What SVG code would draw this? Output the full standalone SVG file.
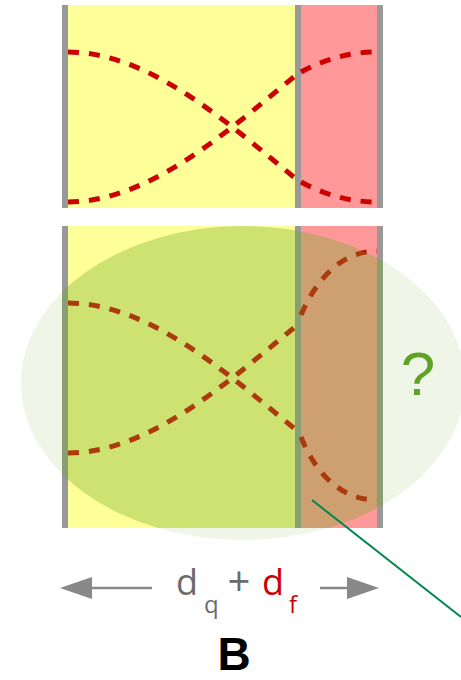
<svg xmlns="http://www.w3.org/2000/svg" width="461" height="680" viewBox="0 0 461 680">
<style>
.bar{stroke:#999999;stroke-width:6;fill:none}
.dash{stroke:#CC0000;stroke-width:5;fill:none;stroke-dasharray:11 10}
.arrow{stroke:#888888;stroke-width:2.5;fill:none}
.head{fill:#888888}
.t{font-family:"Open Sans","Noto Sans",sans-serif}
</style>
<defs>
<clipPath id="panelClip"><rect x="62" y="226" width="321" height="302"/></clipPath>
</defs>
<rect width="461" height="680" fill="#FFFFFF"/>
<g id="panel-top">
<rect x="65" y="5" width="233" height="203" fill="#FFFF99"/>
<rect x="298" y="5" width="82" height="203" fill="#FF9999"/>
<line class="bar" x1="65" y1="5" x2="65" y2="208"/>
<line class="bar" x1="298" y1="5" x2="298" y2="208"/>
<line class="bar" x1="380" y1="5" x2="380" y2="208"/>
<path class="dash" d="M68,52 C150,52 230,125 295,178"/>
<path class="dash" d="M68,202 C150,202 230,129 295,76"/>
<path class="dash" d="M301,182 C325,195 350,202 377,202"/>
<path class="dash" d="M301,72 C325,59 350,52 377,52"/>
</g>
<g id="panel-bottom">
<rect x="65" y="226" width="233" height="302" fill="#FFFF99"/>
<rect x="298" y="226" width="82" height="302" fill="#FF9999"/>
<line class="bar" x1="65" y1="226" x2="65" y2="528"/>
<line class="bar" x1="298" y1="226" x2="298" y2="528"/>
<line class="bar" x1="380" y1="226" x2="380" y2="528"/>
<path class="dash" d="M68,303 C150,303 230,376 295,429"/>
<path class="dash" d="M68,453 C150,453 230,380 295,327"/>
<path class="dash" d="M301,437 C315,472 340,500 377,500"/>
<path class="dash" d="M301,315 C315,282 340,251 377,251"/>
</g>
<g id="ellipse">
<ellipse cx="243" cy="383" rx="222" ry="157" fill="#6EAA28" fill-opacity="0.11"/>
<ellipse cx="243" cy="383" rx="222" ry="157" fill="#6EAA28" fill-opacity="0.26" clip-path="url(#panelClip)"/>
<text x="418" y="395" font-size="62" fill="#5EA328" text-anchor="middle" font-family="'Liberation Sans',Arial,sans-serif">?</text>
</g>
<g id="connectors">
<line x1="312" y1="500" x2="461" y2="617" stroke="#00884A" stroke-width="2"/>
<line class="arrow" x1="88" y1="588" x2="152" y2="588"/>
<polygon class="head" points="60,588 92,577 92,599"/>
<line class="arrow" x1="320" y1="588" x2="350" y2="588"/>
<polygon class="head" points="379,588 347,577 347,599"/>
</g>
<g id="label">
<text class="t" x="176" y="595" font-size="36" fill="#6B6B6B">d</text>
<text class="t" x="204" y="613" font-size="24" fill="#6B6B6B">q</text>
<text class="t" x="239" y="596" font-size="40" fill="#6B6B6B" text-anchor="middle">+</text>
<text class="t" x="262" y="595" font-size="36" fill="#CC0000">d</text>
<text class="t" x="289" y="613" font-size="24" fill="#CC0000">f</text>
<text x="234" y="670" font-size="46" font-weight="bold" fill="#000000" text-anchor="middle" font-family="'Liberation Sans',Arial,sans-serif">B</text>
</g>
</svg>
